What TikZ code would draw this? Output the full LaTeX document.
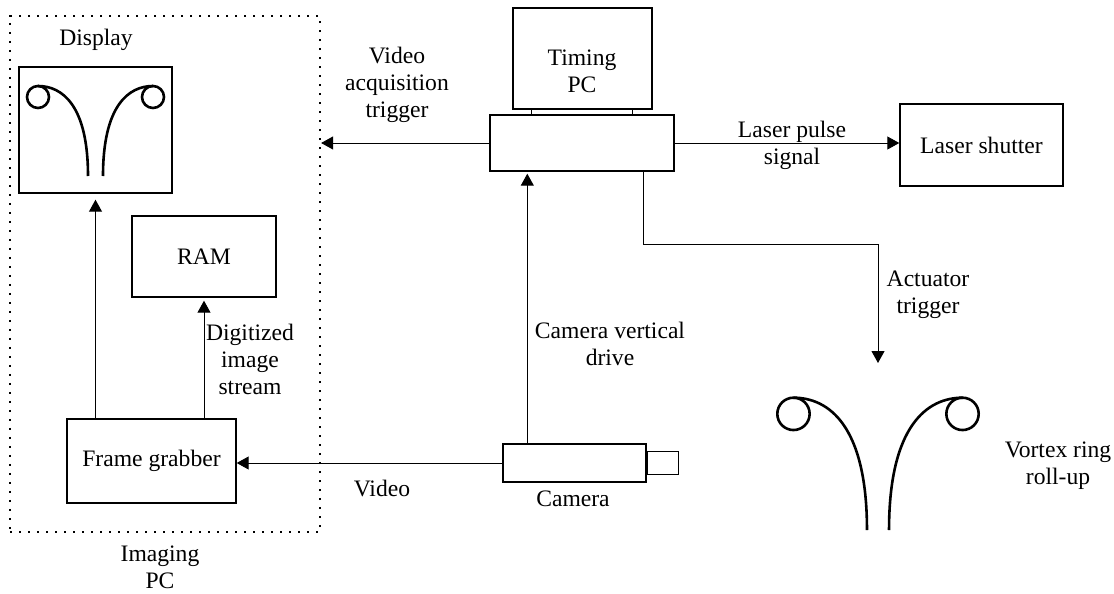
\documentclass[tikz,border=0pt]{standalone}
\usepackage{fontspec}
\setmainfont{Liberation Serif}
\usetikzlibrary{arrows.meta,positioning}

% rolled-up vortex sheet, origin between the two trailing ends
\tikzset{
  vortex/.pic={
    \draw[line width=1.3pt] (-57.5,-79) circle[radius=11] (57.5,-79) circle[radius=11];
    \draw[line width=1.3pt] (-57.5,-90) .. controls (-33.5,-90) and (-7.5,-71) .. (-7.5,0);
    \draw[line width=1.3pt] (57.5,-90) .. controls (33.5,-90) and (7.5,-71) .. (7.5,0);
  }
}

\begin{document}
\begin{tikzpicture}[x=0.5pt,y=-0.5pt,
    font=\fontsize{11.8}{13.5}\selectfont,
    box/.style={draw,line width=0.7pt,inner sep=0pt},
    sig/.style={line width=0.5pt,-{Triangle[length=6pt,width=6.5pt]}},
    lbl/.style={align=center,inner sep=1pt}]
  \useasboundingbox (0,0) rectangle (1114,594);

  % imaging PC and what sits in it
  \node[draw,line width=1.1pt,dash pattern=on 1.1pt off 3.4pt,minimum width=155pt,minimum height=258pt] (imaging) at (165,274) {};
  \node[box,minimum width=76.5pt,minimum height=63pt] (display) at (95.5,130) {};
  \pic at (95.5,176) {vortex};
  \node[lbl] at (96,40) {Display};
  \node[box,minimum width=72pt,minimum height=40.5pt] (ram) at (204,256.5) {RAM};
  \node[box,minimum width=84.5pt,minimum height=42pt] (grabber) at (151.5,461) {Frame grabber};
  \node[lbl] at (160,567) {Imaging\\PC};

  % timing PC on its stand
  \node[box,minimum width=69.5pt,minimum height=50.5pt] (monitor) at (582.5,58.5) {};
  \node[lbl] at (582,71) {Timing\\PC};
  \node[box,minimum width=92pt,minimum height=28pt] (base) at (582,143) {};
  \draw[line width=0.5pt] ([xshift=9.5pt]monitor.south west) -- ++(0,6);
  \draw[line width=0.5pt] ([xshift=-10pt]monitor.south east) -- ++(0,6);

  \node[box,minimum width=81.5pt,minimum height=41pt] (shutter) at (981.5,145) {Laser shutter};

  % camera body and lens
  \node[box,minimum width=71.5pt,minimum height=19pt] (camera) at (574.5,463) {};
  \node[box,minimum width=15.5pt,minimum height=11.5pt,anchor=west] (lens) at (camera.east) {};
  \node[lbl] at (573,499) {Camera};

  \pic[scale=1.47] at (878,530) {vortex};
  \node[lbl] at (1058,466) {Vortex ring\\roll-up};

  % signal lines
  \draw[sig,shorten >=3pt] (grabber.north -| display.south) -- (display.south);
  \draw[sig,shorten >=1.5pt] (grabber.north -| ram.south) -- (ram.south);
  \draw[sig] (camera.west) -- (camera.west -| grabber.east);
  \draw[sig,shorten >=1pt] ([xshift=12.5pt]camera.north west) coordinate (cv) -- (cv |- base.south);
  \draw[sig] (base.west) -- (base.west -| imaging.east);
  \draw[sig] (base.east) -- (base.east -| shutter.west);
  \coordinate (act) at (878,363);
  \draw[sig] ([xshift=-15.5pt]base.south east) -- ++(0,73) -| (act);

  \node[lbl] at (250,359) {Digitized\\image\\stream};
  \node[lbl] at (382,488) {Video};
  \node[lbl] at (610,344) {Camera vertical\\drive};
  \node[lbl] at (397,85) {Video\\acquisition\\trigger};
  \node[lbl] at (792,145) {Laser pulse\\signal};
  \node[lbl] at (928,295) {Actuator\\trigger};
\end{tikzpicture}
\end{document}
